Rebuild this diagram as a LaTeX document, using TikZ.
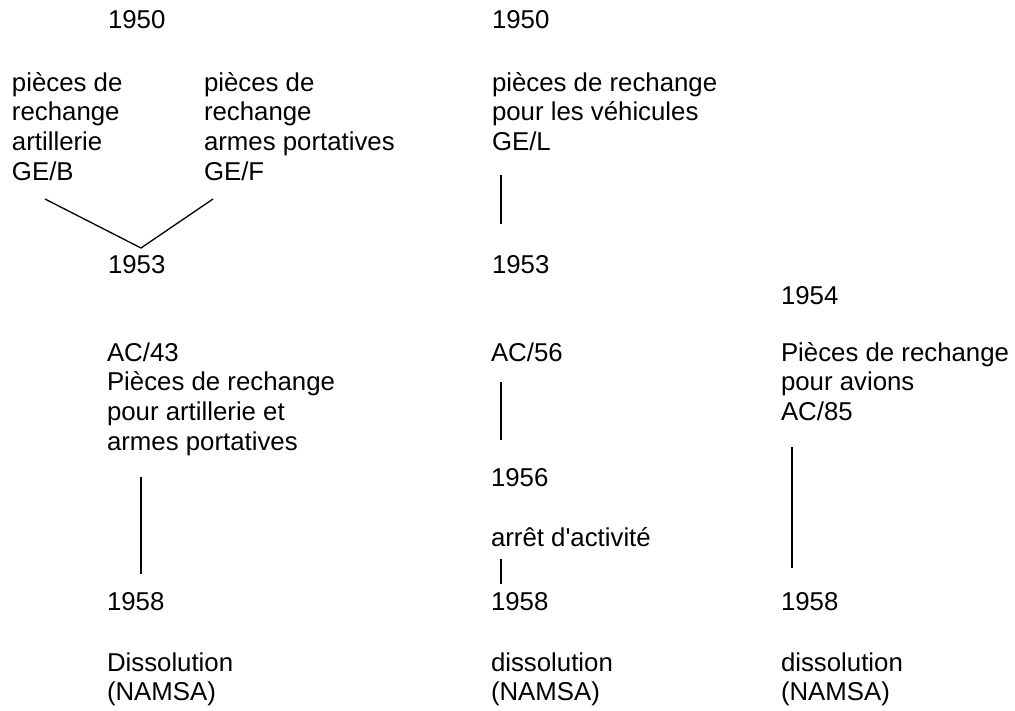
\documentclass[tikz,border=0pt]{standalone}
\usepackage{fontspec}
\setmainfont{Liberation Sans}[Ligatures=TeXOff]
\begin{document}
\begin{tikzpicture}[x=1pt,y=-1pt,
  lbl/.style={anchor=base west,inner sep=0pt,outer sep=0pt,font=\fontsize{25.8}{29.7}\selectfont},
  conn/.style={draw=black,line width=1.3pt}]
\useasboundingbox (0,0) rectangle (1015,710);
\newcommand{\stk}[1]{\begin{tabular}[t]{@{}l@{}}#1\end{tabular}}
% column 1
\node[lbl] (y50a) at (108,28) {1950};
\node[lbl] (geb) at (12,91) {\stk{pièces de\\rechange\\artillerie\\GE/B}};
\node[lbl] (gef) at (204,91) {\stk{pièces de\\rechange\\armes portatives\\GE/F}};
\node[lbl] (y53a) at (108,273) {1953};
\node[lbl] (ac43) at (107,361) {\stk{AC/43\\Pièces de rechange\\pour artillerie et\\armes portatives}};
\node[lbl] (y58a) at (107,610) {1958};
\node[lbl] (dis1) at (107,671) {\stk{Dissolution\\(NAMSA)}};
% column 2
\node[lbl] (y50b) at (492,28) {1950};
\node[lbl] (gel) at (492,91) {\stk{pièces de rechange\\pour les véhicules\\GE/L}};
\node[lbl] (y53b) at (492,273) {1953};
\node[lbl] (ac56) at (491,361) {AC/56};
\node[lbl] (y56) at (491,486) {1956};
\node[lbl] (arret) at (491,546) {arrêt d'activité};
\node[lbl] (y58b) at (491,610) {1958};
\node[lbl] (dis2) at (491,671) {\stk{dissolution\\(NAMSA)}};
% column 3
\node[lbl] (y54) at (781,304) {1954};
\node[lbl] (ac85) at (781,361) {\stk{Pièces de rechange\\pour avions\\AC/85}};
\node[lbl] (y58c) at (781,610) {1958};
\node[lbl] (dis3) at (781,671) {\stk{dissolution\\(NAMSA)}};
% connector end points
\coordinate (vL) at (45,199);
\coordinate (vM) at (141,248);
\coordinate (vR) at (213,199);
\coordinate (c2a) at (501,175);
\coordinate (c2b) at (501,224);
\coordinate (c1a) at (141,477);
\coordinate (c1b) at (141,574);
\coordinate (c2c) at (501,382);
\coordinate (c2d) at (501,440);
\coordinate (c2e) at (501,559);
\coordinate (c2f) at (501,584);
\coordinate (c3a) at (792,447);
\coordinate (c3b) at (792,568);
\draw[conn] (vL) -- (vM) -- (vR);
\draw[conn] (c2a) -- (c2b);
\draw[conn] (c1a) -- (c1b);
\draw[conn] (c2c) -- (c2d);
\draw[conn] (c2e) -- (c2f);
\draw[conn] (c3a) -- (c3b);
\end{tikzpicture}
\end{document}
